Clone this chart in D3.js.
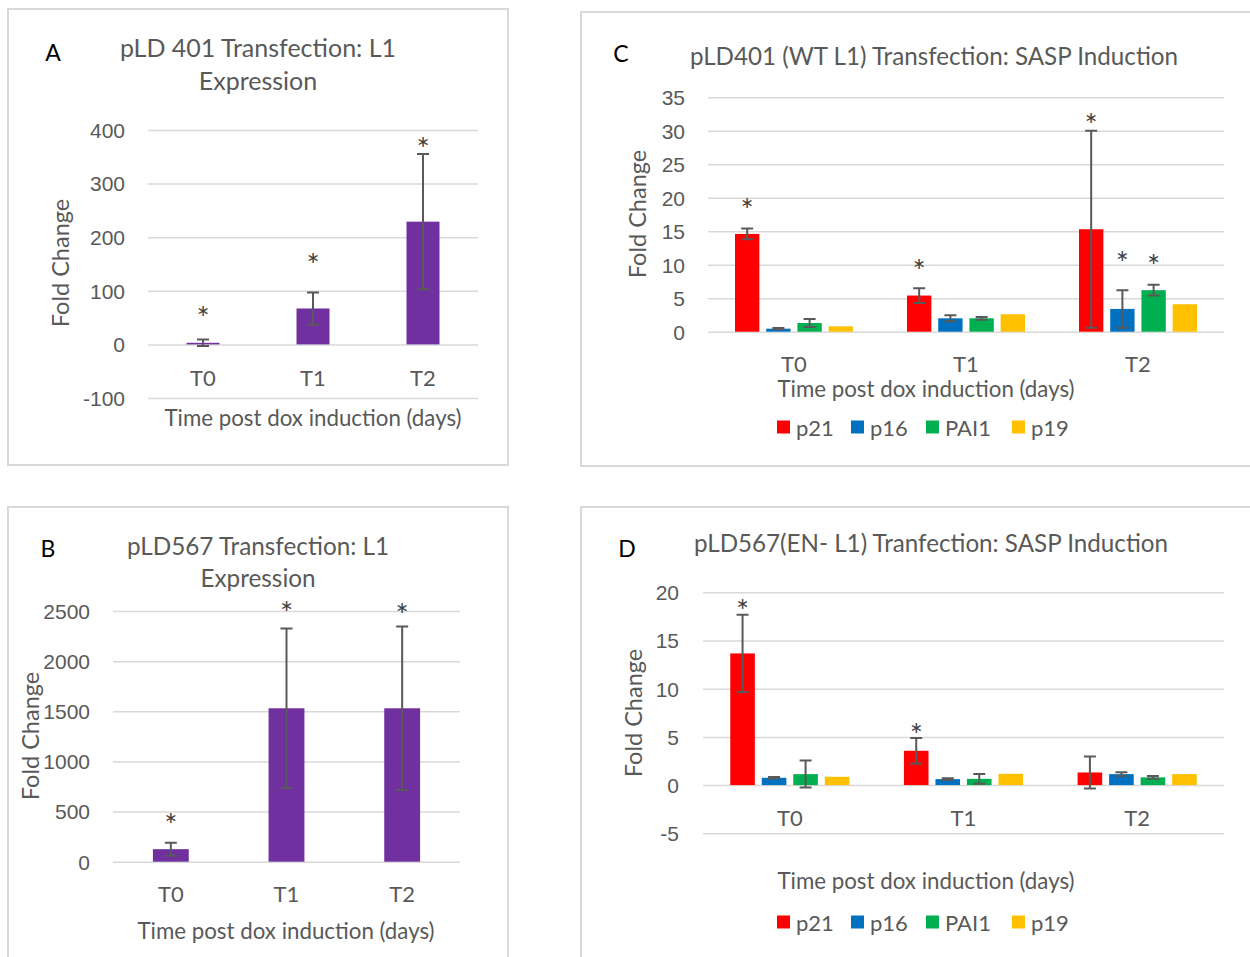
<!DOCTYPE html>
<html>
<head>
<meta charset="utf-8">
<script src="https://cdn.jsdelivr.net/npm/d3@7"></script>
<style>
  body { margin: 0; background: #fff; }
  svg { display: block; font-family: Lato, 'Open Sans', sans-serif; }
  .grid { stroke: #d9d9d9; stroke-width: 1.5; }
  .border { fill: none; stroke: #d9d9d9; stroke-width: 2; }
  .err { stroke: #595959; stroke-width: 2; fill: none; }
  .txt { fill: #595959; }
</style>
</head>
<body>
<svg id="chart" width="1250" height="957"></svg>
<script>
const categories = ['T0', 'T1', 'T2']
const genes = ['p21', 'p16', 'PAI1', 'p19']
const geneColors = ['#ff0000', '#0070c0', '#00b050', '#ffc000']

// panel A - pLD 401 L1 expression
const aValues = [3, 67, 229]
const aErrors = [6, 30, 126]
const aStars = [60, 159, 376]

// panel B - pLD567 L1 expression
const bValues = [125, 1530, 1530]
const bErrors = [65, 795, 815]
const bStars = [426, 2540, 2520]

// panel C - pLD401 SASP induction (one row per gene, one column per time point)
const cValues = [
    [14.6, 5.4, 15.3],
    [0.45, 2.0, 3.4],
    [1.3, 2.0, 6.2],
    [0.8, 2.6, 4.1]
]
const cErrors = [
    [0.8, 1.1, 14.7],
    [0.1, 0.45, 2.8],
    [0.6, 0.2, 0.8],
    null
]
const cStars = [['T0', 'p21', 19.0], ['T1', 'p21', 9.9], ['T2', 'p21', 31.7], ['T2', 'p16', 11.1], ['T2', 'PAI1', 10.7]]

// panel D - pLD567 SASP induction
const dValues = [
    [13.66, 3.56, 1.31],
    [0.76, 0.62, 1.14],
    [1.14, 0.65, 0.8],
    [0.86, 1.17, 1.14]
]
const dErrors = [
    [4.0, 1.33, 1.65],
    [0.08, 0.1, 0.2],
    [1.4, 0.5, 0.15],
    null
]
const dStars = [['T0', 'p21', 18.67], ['T1', 'p21', 5.78]]

const svg = d3.select('#chart')

function drawFrame(p) {
    const g = svg.append('g')
    g.append('rect').attr('class', 'border')
        .attr('x', p.box[0]).attr('y', p.box[1])
        .attr('width', p.box[2] - p.box[0]).attr('height', p.box[3] - p.box[1])

    const y = d3.scaleLinear().domain(p.yDomain).range(p.yRange)
    const x = d3.scaleBand().domain(categories).range(p.xRange).padding(0)
    const ticks = d3.range(p.yDomain[0], p.yDomain[1] + p.yStep / 2, p.yStep)

    // gridlines + tick labels via a left axis
    const axis = g.append('g')
        .attr('transform', `translate(${p.xRange[0]},0)`)
        .call(d3.axisLeft(y).tickValues(ticks).tickFormat(d => String(d))
            .tickSize(0).tickPadding(p.xRange[0] - p.tickRight))
    axis.select('.domain').remove()
    axis.selectAll('text').attr('class', 'txt').attr('fill', null)
        .style('font-size', '21px').attr('dy', '0.35em')
    axis.selectAll('.tick line').attr('class', 'grid')
        .attr('x2', p.xRange[1] - p.xRange[0]).attr('stroke', null)

    // category labels
    g.selectAll('.cat').data(categories).enter().append('text')
        .attr('class', 'txt')
        .attr('x', d => x(d) + x.bandwidth() / 2)
        .attr('y', p.catY)
        .attr('text-anchor', 'middle').attr('dominant-baseline', 'central')
        .style('font-size', '22px')
        .text(d => d)

    g.append('text').attr('class', 'txt')
        .attr('x', p.xTitle[0]).attr('y', p.xTitle[1])
        .attr('text-anchor', 'middle').attr('dominant-baseline', 'central')
        .style('font-size', '22.3px')
        .text('Time post dox induction (days)')

    g.append('text').attr('class', 'txt')
        .attr('transform', `translate(${p.yTitle[0]},${p.yTitle[1]}) rotate(-90)`)
        .attr('text-anchor', 'middle').attr('dominant-baseline', 'central')
        .style('font-size', '23.5px')
        .text('Fold Change')

    p.title.forEach(([tx, ty, t]) => {
        g.append('text').attr('class', 'txt')
            .attr('x', tx).attr('y', ty)
            .attr('text-anchor', 'middle').attr('dominant-baseline', 'central')
            .style('font-size', p.titleSize + 'px')
            .text(t)
    })

    g.append('text')
        .attr('x', p.letter[0]).attr('y', p.letter[1])
        .attr('text-anchor', 'middle').attr('dominant-baseline', 'central')
        .attr('fill', '#000').style('font-size', '23px')
        .text(p.name)

    return { g, x, y }
}

function errorBar(g, cx, y, v, e) {
    const top = y(v + e), bot = y(v - e)
    g.append('path').attr('class', 'err')
        .attr('d', `M ${cx} ${top} V ${bot} M ${cx - 6} ${top} H ${cx + 6} M ${cx - 6} ${bot} H ${cx + 6}`)
}

function star(g, cx, cy) {
    g.append('text')
        .attr('x', cx).attr('y', cy + 17)
        .attr('text-anchor', 'middle')
        .attr('fill', '#404040').style('font-size', '31px')
        .text('*')
}

function drawSingle(p, values, errors, stars) {
    const { g, x, y } = drawFrame(p)
    const w = x.bandwidth() * p.barFrac
    values.forEach((v, i) => {
        const cx = x(categories[i]) + x.bandwidth() / 2
        g.append('rect')
            .attr('x', cx - w / 2).attr('width', w)
            .attr('y', y(Math.max(v, 0))).attr('height', Math.abs(y(v) - y(0)))
            .attr('fill', '#7030a0')
        errorBar(g, cx, y, v, errors[i])
        star(g, cx, y(stars[i]))
    })
}

function drawGrouped(p, values, errors, stars) {
    const { g, x, y } = drawFrame(p)
    const cluster = x.bandwidth() * 0.686
    const x1 = d3.scaleBand().domain(genes)
        .range([(x.bandwidth() - cluster) / 2, (x.bandwidth() + cluster) / 2])
        .paddingInner(0.22)
    genes.forEach((gene, gi) => {
        values[gi].forEach((v, ci) => {
            const bx = x(categories[ci]) + x1(gene)
            g.append('rect')
                .attr('x', bx).attr('width', x1.bandwidth())
                .attr('y', y(Math.max(v, 0))).attr('height', Math.abs(y(v) - y(0)))
                .attr('fill', geneColors[gi])
            if (errors[gi]) errorBar(g, bx + x1.bandwidth() / 2, y, v, errors[gi][ci])
        })
    })
    stars.forEach(([cat, gene, sv]) => {
        star(g, x(cat) + x1(gene) + x1.bandwidth() / 2, y(sv))
    })

    // legend
    const lg = g.append('g')
    genes.forEach((gene, gi) => {
        const lx = p.legendX[gi]
        lg.append('rect').attr('x', lx).attr('y', p.legendY - 6.5)
            .attr('width', 13).attr('height', 13).attr('fill', geneColors[gi])
        lg.append('text').attr('class', 'txt')
            .attr('x', lx + 19).attr('y', p.legendY)
            .attr('dominant-baseline', 'central')
            .style('font-size', '22px')
            .text(gene)
    })
}

drawSingle({
    name: 'A', box: [8, 9, 508, 465], xRange: [148, 478],
    yDomain: [-100, 400], yRange: [398, 130], yStep: 100, tickRight: 125,
    catY: 377, xTitle: [313, 417], yTitle: [60, 263], letter: [53, 52],
    title: [[258, 47, 'pLD 401 Transfection: L1'], [258, 80, 'Expression']], titleSize: 25,
    barFrac: 0.3
}, aValues, aErrors, aStars)

drawSingle({
    name: 'B', box: [8, 507, 508, 1000], xRange: [113, 460],
    yDomain: [0, 2500], yRange: [861.7, 611], yStep: 500, tickRight: 90,
    catY: 893, xTitle: [286, 930], yTitle: [30, 736], letter: [48, 548],
    title: [[258, 545, 'pLD567 Transfection: L1'], [258, 577, 'Expression']], titleSize: 24.3,
    barFrac: 0.31
}, bValues, bErrors, bStars)

drawGrouped({
    name: 'C', box: [581, 12, 1262, 466], xRange: [708, 1224],
    yDomain: [0, 35], yRange: [331.7, 97.3], yStep: 5, tickRight: 685,
    catY: 363, xTitle: [926, 388], yTitle: [637, 214], letter: [621, 53],
    title: [[934, 55, 'pLD401 (WT L1) Transfection: SASP Induction']], titleSize: 24.2,
    legendX: [777, 851, 926, 1012], legendY: 427
}, cValues, cErrors, cStars)

drawGrouped({
    name: 'D', box: [581, 507, 1262, 1000], xRange: [703, 1224],
    yDomain: [-5, 20], yRange: [833.3, 592.3], yStep: 5, tickRight: 679,
    catY: 817, xTitle: [926, 880], yTitle: [633, 713], letter: [627, 548],
    title: [[931, 542, 'pLD567(EN- L1) Tranfection: SASP Induction']], titleSize: 24.2,
    legendX: [777, 851, 926, 1012], legendY: 922
}, dValues, dErrors, dStars)
</script>
</body>
</html>
